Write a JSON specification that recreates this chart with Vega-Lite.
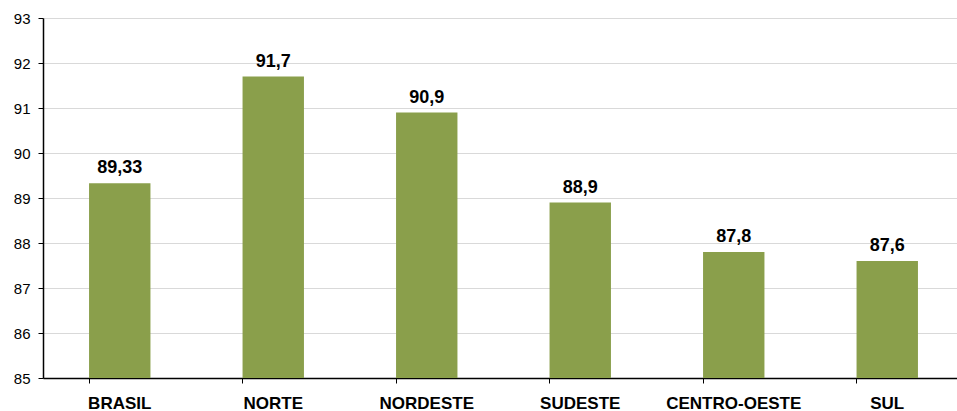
{
  "$schema": "https://vega.github.io/schema/vega-lite/v6.json",
  "autosize": {"type": "none"},
  "padding": {"left": 43, "top": 18, "right": 0, "bottom": 33},
  "width": 914,
  "height": 360,
  "background": "white",
  "config": {"view": {"stroke": null}, "font": "Liberation Sans"},
  "data": {
    "values": [
      {"regiao": "BRASIL", "valor": 89.33, "rotulo": "89,33"},
      {"regiao": "NORTE", "valor": 91.7, "rotulo": "91,7"},
      {"regiao": "NORDESTE", "valor": 90.9, "rotulo": "90,9"},
      {"regiao": "SUDESTE", "valor": 88.9, "rotulo": "88,9"},
      {"regiao": "CENTRO-OESTE", "valor": 87.8, "rotulo": "87,8"},
      {"regiao": "SUL", "valor": 87.6, "rotulo": "87,6"}
    ]
  },
  "encoding": {
    "x": {
      "field": "regiao",
      "type": "nominal",
      "sort": null,
      "scale": {"range": [0, 921], "paddingInner": 0.6, "paddingOuter": 0.3},
      "axis": {
        "title": null,
        "labelAngle": 0,
        "labelFont": "Liberation Sans",
        "labelFontSize": 17,
        "labelFontWeight": "bold",
        "labelColor": "black",
        "labelPadding": 12,
        "bandPosition": 0,
        "tickSize": 5,
        "tickColor": "black",
        "domainColor": "black",
        "domainWidth": 1.5,
        "grid": false
      }
    },
    "y": {
      "field": "valor",
      "type": "quantitative",
      "scale": {"domain": [85, 93], "zero": false, "nice": false},
      "axis": {
        "title": null,
        "values": [85, 86, 87, 88, 89, 90, 91, 92, 93],
        "labelFont": "Liberation Sans",
        "labelFontSize": 15,
        "labelColor": "black",
        "labelPadding": 8,
        "tickSize": 5,
        "tickColor": "black",
        "domainColor": "black",
        "domainWidth": 1.5,
        "gridColor": "#d9d9d9",
        "gridWidth": 1
      }
    }
  },
  "layer": [
    {
      "mark": {"type": "bar", "color": "#8A9F4B", "clip": false},
      "encoding": {"y2": {"datum": 85}}
    },
    {
      "mark": {"type": "text", "baseline": "alphabetic", "dy": -10, "fontSize": 18, "fontWeight": "bold", "font": "Liberation Sans", "color": "black", "clip": false},
      "encoding": {"text": {"field": "rotulo"}}
    }
  ]
}
